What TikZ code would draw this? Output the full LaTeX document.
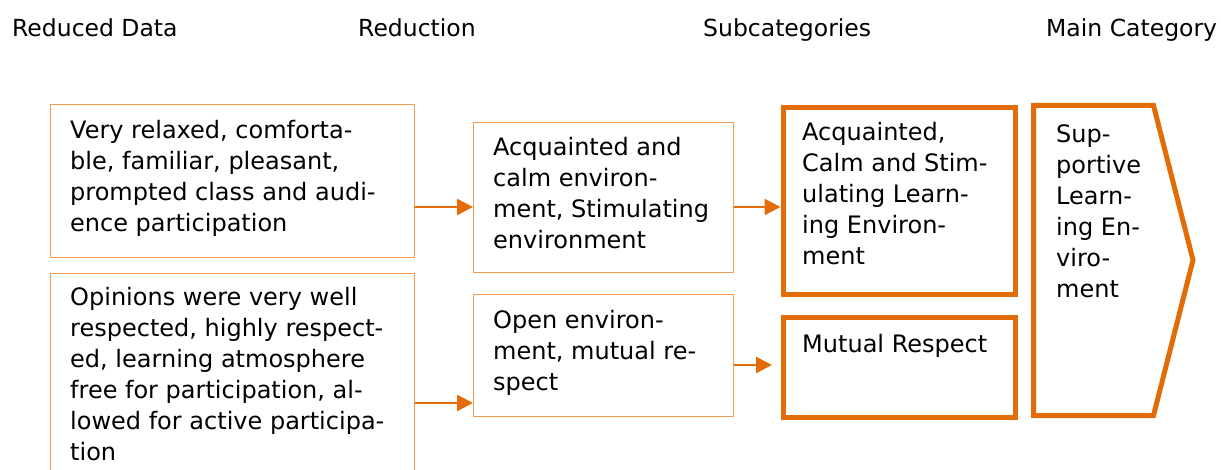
\documentclass[tikz,border=0pt]{standalone}
\usepackage{fontspec}
\setmainfont{DejaVu Sans}
\usetikzlibrary{arrows.meta}
\definecolor{thinor}{HTML}{F59B52}
\definecolor{thickor}{HTML}{E36C09}
\tikzset{
  lbl/.style={inner sep=0pt, anchor=north west, align=left, font=\fontsize{24}{31}\selectfont},
  head/.style={inner sep=0pt, anchor=base west, font=\fontsize{23.5}{31}\selectfont},
  thinbox/.style={draw=thinor, line width=1.2pt, rectangle, inner sep=0pt, anchor=north west},
  thickbox/.style={draw=thickor, line width=5pt, rectangle, inner sep=0pt, anchor=north west},
  arr/.style={draw=thickor, line width=2.5pt, -{Triangle[length=16pt,width=16pt]}},
}
\begin{document}
\begin{tikzpicture}[x=1pt,y=-1pt]
\useasboundingbox (0,0) rectangle (1221,470);
\clip (0,0) rectangle (1221,470);
% headers
\node[head] (h1) at (12,37) {Reduced Data};
\node[head] (h2) at (358,37) {Reduction};
\node[head] (h3) at (703,37) {Subcategories};
\node[head] (h4) at (1046,37) {Main Category};
% column 1
\node[thinbox, minimum width=364pt, minimum height=153pt] (A1) at (50,104) {};
\node[thinbox, minimum width=364pt, minimum height=220pt] (A2) at (50,273) {};
\node[lbl] (tA1) at (70,116.3) {\strut Very relaxed, comforta-\\ble, familiar, pleasant,\\prompted class and audi-\\ence participation};
\node[lbl] (tA2) at (70,283.3) {\strut Opinions were very well\\respected, highly respect-\\ed, learning atmosphere\\free for participation, al-\\lowed for active participa-\\tion};
% column 2
\node[thinbox, minimum width=260pt, minimum height=150pt] (B1) at (473,122) {};
\node[thinbox, minimum width=260pt, minimum height=122pt] (B2) at (473,294) {};
\node[lbl] (tB1) at (493,133.3) {\strut Acquainted and\\calm environ-\\ment, Stimulating\\environment};
\node[lbl] (tB2) at (493,306.3) {\strut Open environ-\\ment, mutual re-\\spect};
% column 3
\node[thickbox, minimum width=232pt, minimum height=187pt] (C1) at (780.5,105.5) {};
\node[thickbox, minimum width=232pt, minimum height=99pt] (C2) at (780.5,315.5) {};
\node[lbl] (tC1) at (802,118.3) {\strut Acquainted,\\Calm and Stim-\\ulating Learn-\\ing Environ-\\ment};
\node[lbl] (tC2) at (802,330.3) {\strut Mutual Respect};
% chevron
\draw[draw=thickor, line width=5pt, line join=miter]
  (1033.5,105.5) -- (1153.5,105.5) -- (1193,260) -- (1153.5,415.5) -- (1033.5,415.5) -- cycle;
\coordinate (Dtip) at (1193,260);
\node[lbl] (tD) at (1056,120.3) {\strut Sup-\\portive\\Learn-\\ing En-\\viro-\\ment};
% arrows
\draw[arr] (A1.east |- 0,207) -- (B1.west |- 0,207);
\draw[arr] (B1.east |- 0,207) -- (C1.west |- 0,207);
\draw[arr] (A2.east |- 0,403) -- (B2.west |- 0,403);
\coordinate (c2in) at (772,365);
\draw[arr] (B2.east |- 0,365) -- (c2in);
\end{tikzpicture}
\end{document}
